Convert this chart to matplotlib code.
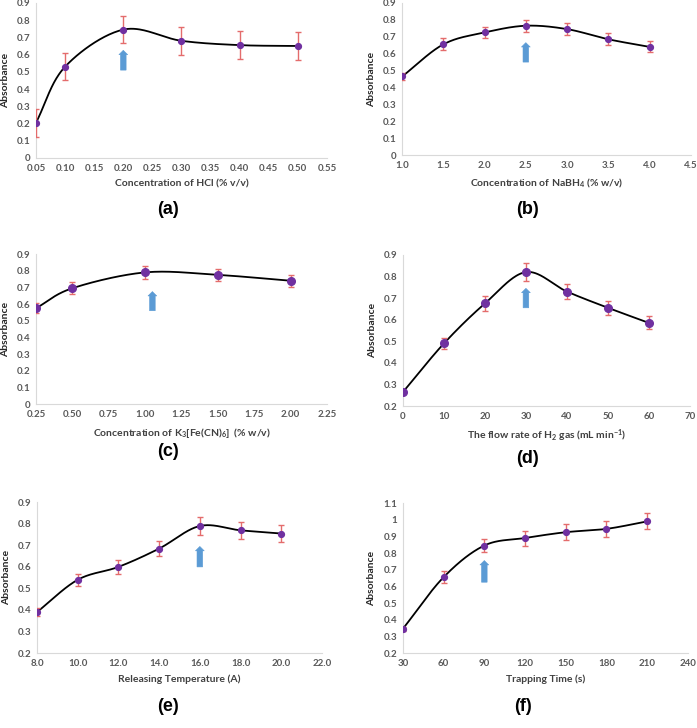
import numpy as np
import matplotlib
matplotlib.use("Agg")
import matplotlib.pyplot as plt
from matplotlib.ticker import FixedLocator, FixedFormatter

plt.rcParams['font.family'] = ['Lato', 'DejaVu Sans']
plt.rcParams['mathtext.fontset'] = 'custom'
plt.rcParams['mathtext.rm'] = 'Lato:bold'
plt.rcParams['mathtext.it'] = 'Lato:bold'
plt.rcParams['mathtext.bf'] = 'Lato:bold'
plt.rcParams['mathtext.default'] = 'rm'

# ---- data ----
hcl_x = [0.05, 0.10, 0.20, 0.30, 0.40, 0.50]
hcl_y = [0.205, 0.53, 0.745, 0.68, 0.655, 0.65]
hcl_e = [0.082, 0.08, 0.08, 0.08, 0.08, 0.08]

nabh_x = [1.0, 1.5, 2.0, 2.5, 3.0, 3.5, 4.0]
nabh_y = [0.465, 0.655, 0.725, 0.765, 0.745, 0.685, 0.64]
nabh_e = [0.02, 0.035, 0.035, 0.035, 0.035, 0.035, 0.032]

fe_x = [0.25, 0.50, 1.00, 1.50, 2.00]
fe_y = [0.575, 0.695, 0.79, 0.775, 0.74]
fe_e = [0.03, 0.035, 0.04, 0.035, 0.035]

h2_x = [0, 10, 20, 30, 40, 50, 60]
h2_y = [0.265, 0.49, 0.675, 0.82, 0.73, 0.655, 0.585]
h2_e = [0.0, 0.025, 0.035, 0.04, 0.035, 0.032, 0.03]

rt_x = [8.0, 10.0, 12.0, 14.0, 16.0, 18.0, 20.0]
rt_y = [0.39, 0.54, 0.60, 0.685, 0.79, 0.77, 0.755]
rt_e = [0.02, 0.028, 0.033, 0.035, 0.04, 0.04, 0.04]

tt_x = [30, 60, 90, 120, 150, 180, 210]
tt_y = [0.345, 0.655, 0.845, 0.89, 0.925, 0.945, 0.99]
tt_e = [0.01, 0.035, 0.04, 0.045, 0.048, 0.048, 0.048]

panels = [
    dict(x=hcl_x, y=hcl_y, e=hcl_e, xlim=(0.05, 0.55),
         xt=[0.05 + 0.05 * i for i in range(11)],
         xtl=['0.05', '0.10', '0.15', '0.20', '0.25', '0.30', '0.35', '0.40', '0.45', '0.50', '0.55'],
         ylim=(0, 0.9), yt=[i / 10 for i in range(10)],
         ytl=['0', '0.1', '0.2', '0.3', '0.4', '0.5', '0.6', '0.7', '0.8', '0.9'],
         xlabel='Concentration of HCl (% v/v)', tag='(a)', arrow=(0.20, 0.51, 0.625),
         pos=[0.0517, 0.783, 0.4173, 0.213], ms=4.2, tagpos=(0.241, 0.700)),
    dict(x=nabh_x, y=nabh_y, e=nabh_e, xlim=(1.0, 4.5),
         xt=[1.0, 1.5, 2.0, 2.5, 3.0, 3.5, 4.0, 4.5],
         xtl=['1.0', '1.5', '2.0', '2.5', '3.0', '3.5', '4.0', '4.5'],
         ylim=(0, 0.9), yt=[i / 10 for i in range(10)],
         ytl=['0', '0.1', '0.2', '0.3', '0.4', '0.5', '0.6', '0.7', '0.8', '0.9'],
         xlabel='Concentration of NaBH$_4$ (% w/v)', tag='(b)', arrow=(2.5, 0.55, 0.665),
         pos=[0.577, 0.787, 0.414, 0.209], ms=4.2, tagpos=(0.757, 0.700)),
    dict(x=fe_x, y=fe_y, e=fe_e, xlim=(0.25, 2.25),
         xt=[0.25 * i for i in range(1, 10)],
         xtl=['0.25', '0.50', '0.75', '1.00', '1.25', '1.50', '1.75', '2.00', '2.25'],
         ylim=(0, 0.9), yt=[i / 10 for i in range(10)],
         ytl=['0', '0.1', '0.2', '0.3', '0.4', '0.5', '0.6', '0.7', '0.8', '0.9'],
         xlabel='Concentration of K$_3$[Fe(CN)$_6$]  (% w/v)', tag='(c)', arrow=(1.05, 0.56, 0.675),
         pos=[0.0517, 0.445, 0.4173, 0.206], ms=5.5, tagpos=(0.241, 0.368)),
    dict(x=h2_x, y=h2_y, e=h2_e, xlim=(0, 70),
         xt=[0, 10, 20, 30, 40, 50, 60, 70],
         xtl=['0', '10', '20', '30', '40', '50', '60', '70'],
         ylim=(0.2, 0.9), yt=[0.2, 0.3, 0.4, 0.5, 0.6, 0.7, 0.8, 0.9],
         ytl=['0.2', '0.3', '0.4', '0.5', '0.6', '0.7', '0.8', '0.9'],
         xlabel='The flow rate of H$_2$ gas (mL min$^{-1}$)', tag='(d)', arrow=(30, 0.655, 0.745),
         pos=[0.578, 0.442, 0.412, 0.208], ms=5.5, tagpos=(0.757, 0.358)),
    dict(x=rt_x, y=rt_y, e=rt_e, xlim=(8, 22),
         xt=[8, 10, 12, 14, 16, 18, 20, 22],
         xtl=['8.0', '10.0', '12.0', '14.0', '16.0', '18.0', '20.0', '22.0'],
         ylim=(0.2, 0.9), yt=[0.2, 0.3, 0.4, 0.5, 0.6, 0.7, 0.8, 0.9],
         ytl=['0.2', '0.3', '0.4', '0.5', '0.6', '0.7', '0.8', '0.9'],
         xlabel='Releasing Temperature (A)', tag='(e)', arrow=(16, 0.6, 0.695),
         pos=[0.053, 0.103, 0.409, 0.207], ms=4.2, tagpos=(0.241, 0.018)),
    dict(x=tt_x, y=tt_y, e=tt_e, xlim=(30, 240),
         xt=[30, 60, 90, 120, 150, 180, 210, 240],
         xtl=['30', '60', '90', '120', '150', '180', '210', '240'],
         ylim=(0.2, 1.1), yt=[0.2, 0.3, 0.4, 0.5, 0.6, 0.7, 0.8, 0.9, 1.0, 1.1],
         ytl=['0.2', '0.3', '0.4', '0.5', '0.6', '0.7', '0.8', '0.9', '1', '1.1'],
         xlabel='Trapping Time (s)', tag='(f)', arrow=(90, 0.625, 0.755),
         pos=[0.578, 0.103, 0.409, 0.206], ms=4.2, tagpos=(0.750, 0.018)),
]


def smooth(xs, ys, n=40):
    # Catmull-Rom style smoothing like spreadsheet smoothed lines
    xs = np.asarray(xs, float)
    ys = np.asarray(ys, float)
    px = np.concatenate([[2 * xs[0] - xs[1]], xs, [2 * xs[-1] - xs[-2]]])
    py = np.concatenate([[2 * ys[0] - ys[1]], ys, [2 * ys[-1] - ys[-2]]])
    outx, outy = [], []
    t = np.linspace(0, 1, n)
    for i in range(1, len(px) - 2):
        p0 = np.array([px[i - 1], py[i - 1]])
        p1 = np.array([px[i], py[i]])
        p2 = np.array([px[i + 1], py[i + 1]])
        p3 = np.array([px[i + 2], py[i + 2]])
        c1 = p1 + (p2 - p0) / 6.0
        c2 = p2 - (p3 - p1) / 6.0
        for tt in t:
            b = ((1 - tt) ** 3) * p1 + 3 * ((1 - tt) ** 2) * tt * c1 + 3 * (1 - tt) * tt ** 2 * c2 + tt ** 3 * p2
            outx.append(b[0])
            outy.append(b[1])
    return outx, outy


fig = plt.figure(figsize=(6.97, 7.28), dpi=100)
tick_col = '#595959'
for p in panels:
    ax = fig.add_axes(p['pos'])
    sx, sy = smooth(p['x'], p['y'])
    ax.plot(sx, sy, color='black', lw=1.3, zorder=2)
    ax.errorbar(p['x'], p['y'], yerr=p['e'], fmt='none', ecolor='#E46C6C',
                elinewidth=1.0, capsize=2.5, capthick=1.0, zorder=3)
    ax.plot(p['x'], p['y'], 'o', color='#7030A0', ms=p['ms'], zorder=4, mec='#7030A0')
    ax_x, y0, y1 = p['arrow']
    ax.annotate('', xy=(ax_x, y1), xytext=(ax_x, y0),
                arrowprops=dict(arrowstyle='simple,head_length=0.35,head_width=0.7,tail_width=0.45',
                                fc='#5B9BD5', ec='#5B9BD5', lw=0.4,
                                shrinkA=0, shrinkB=0, mutation_scale=9), zorder=5)
    ax.set_xlim(*p['xlim'])
    ax.set_ylim(*p['ylim'])
    ax.xaxis.set_major_locator(FixedLocator(p['xt']))
    ax.xaxis.set_major_formatter(FixedFormatter(p['xtl']))
    ax.yaxis.set_major_locator(FixedLocator(p['yt']))
    ax.yaxis.set_major_formatter(FixedFormatter(p['ytl']))
    for s in ['top', 'right']:
        ax.spines[s].set_visible(False)
    for s in ['left', 'bottom']:
        ax.spines[s].set_color('#D9D9D9')
        ax.spines[s].set_linewidth(0.8)
    ax.tick_params(length=0, labelsize=7, colors=tick_col, pad=4)
    for lab in ax.get_xticklabels() + ax.get_yticklabels():
        lab.set_fontweight('bold')
    ax.set_xlabel(p['xlabel'], fontsize=7.5, fontweight='bold', color='#404040', labelpad=5)
    ax.set_ylabel('Absorbance', fontsize=7.5, fontweight='bold', color='#262626', labelpad=5)
    fig.text(p['tagpos'][0], p['tagpos'][1], p['tag'], fontsize=13, fontweight='bold',
             family=['Liberation Sans', 'DejaVu Sans'], ha='center', va='bottom')

fig.savefig('out.png', dpi=100)
